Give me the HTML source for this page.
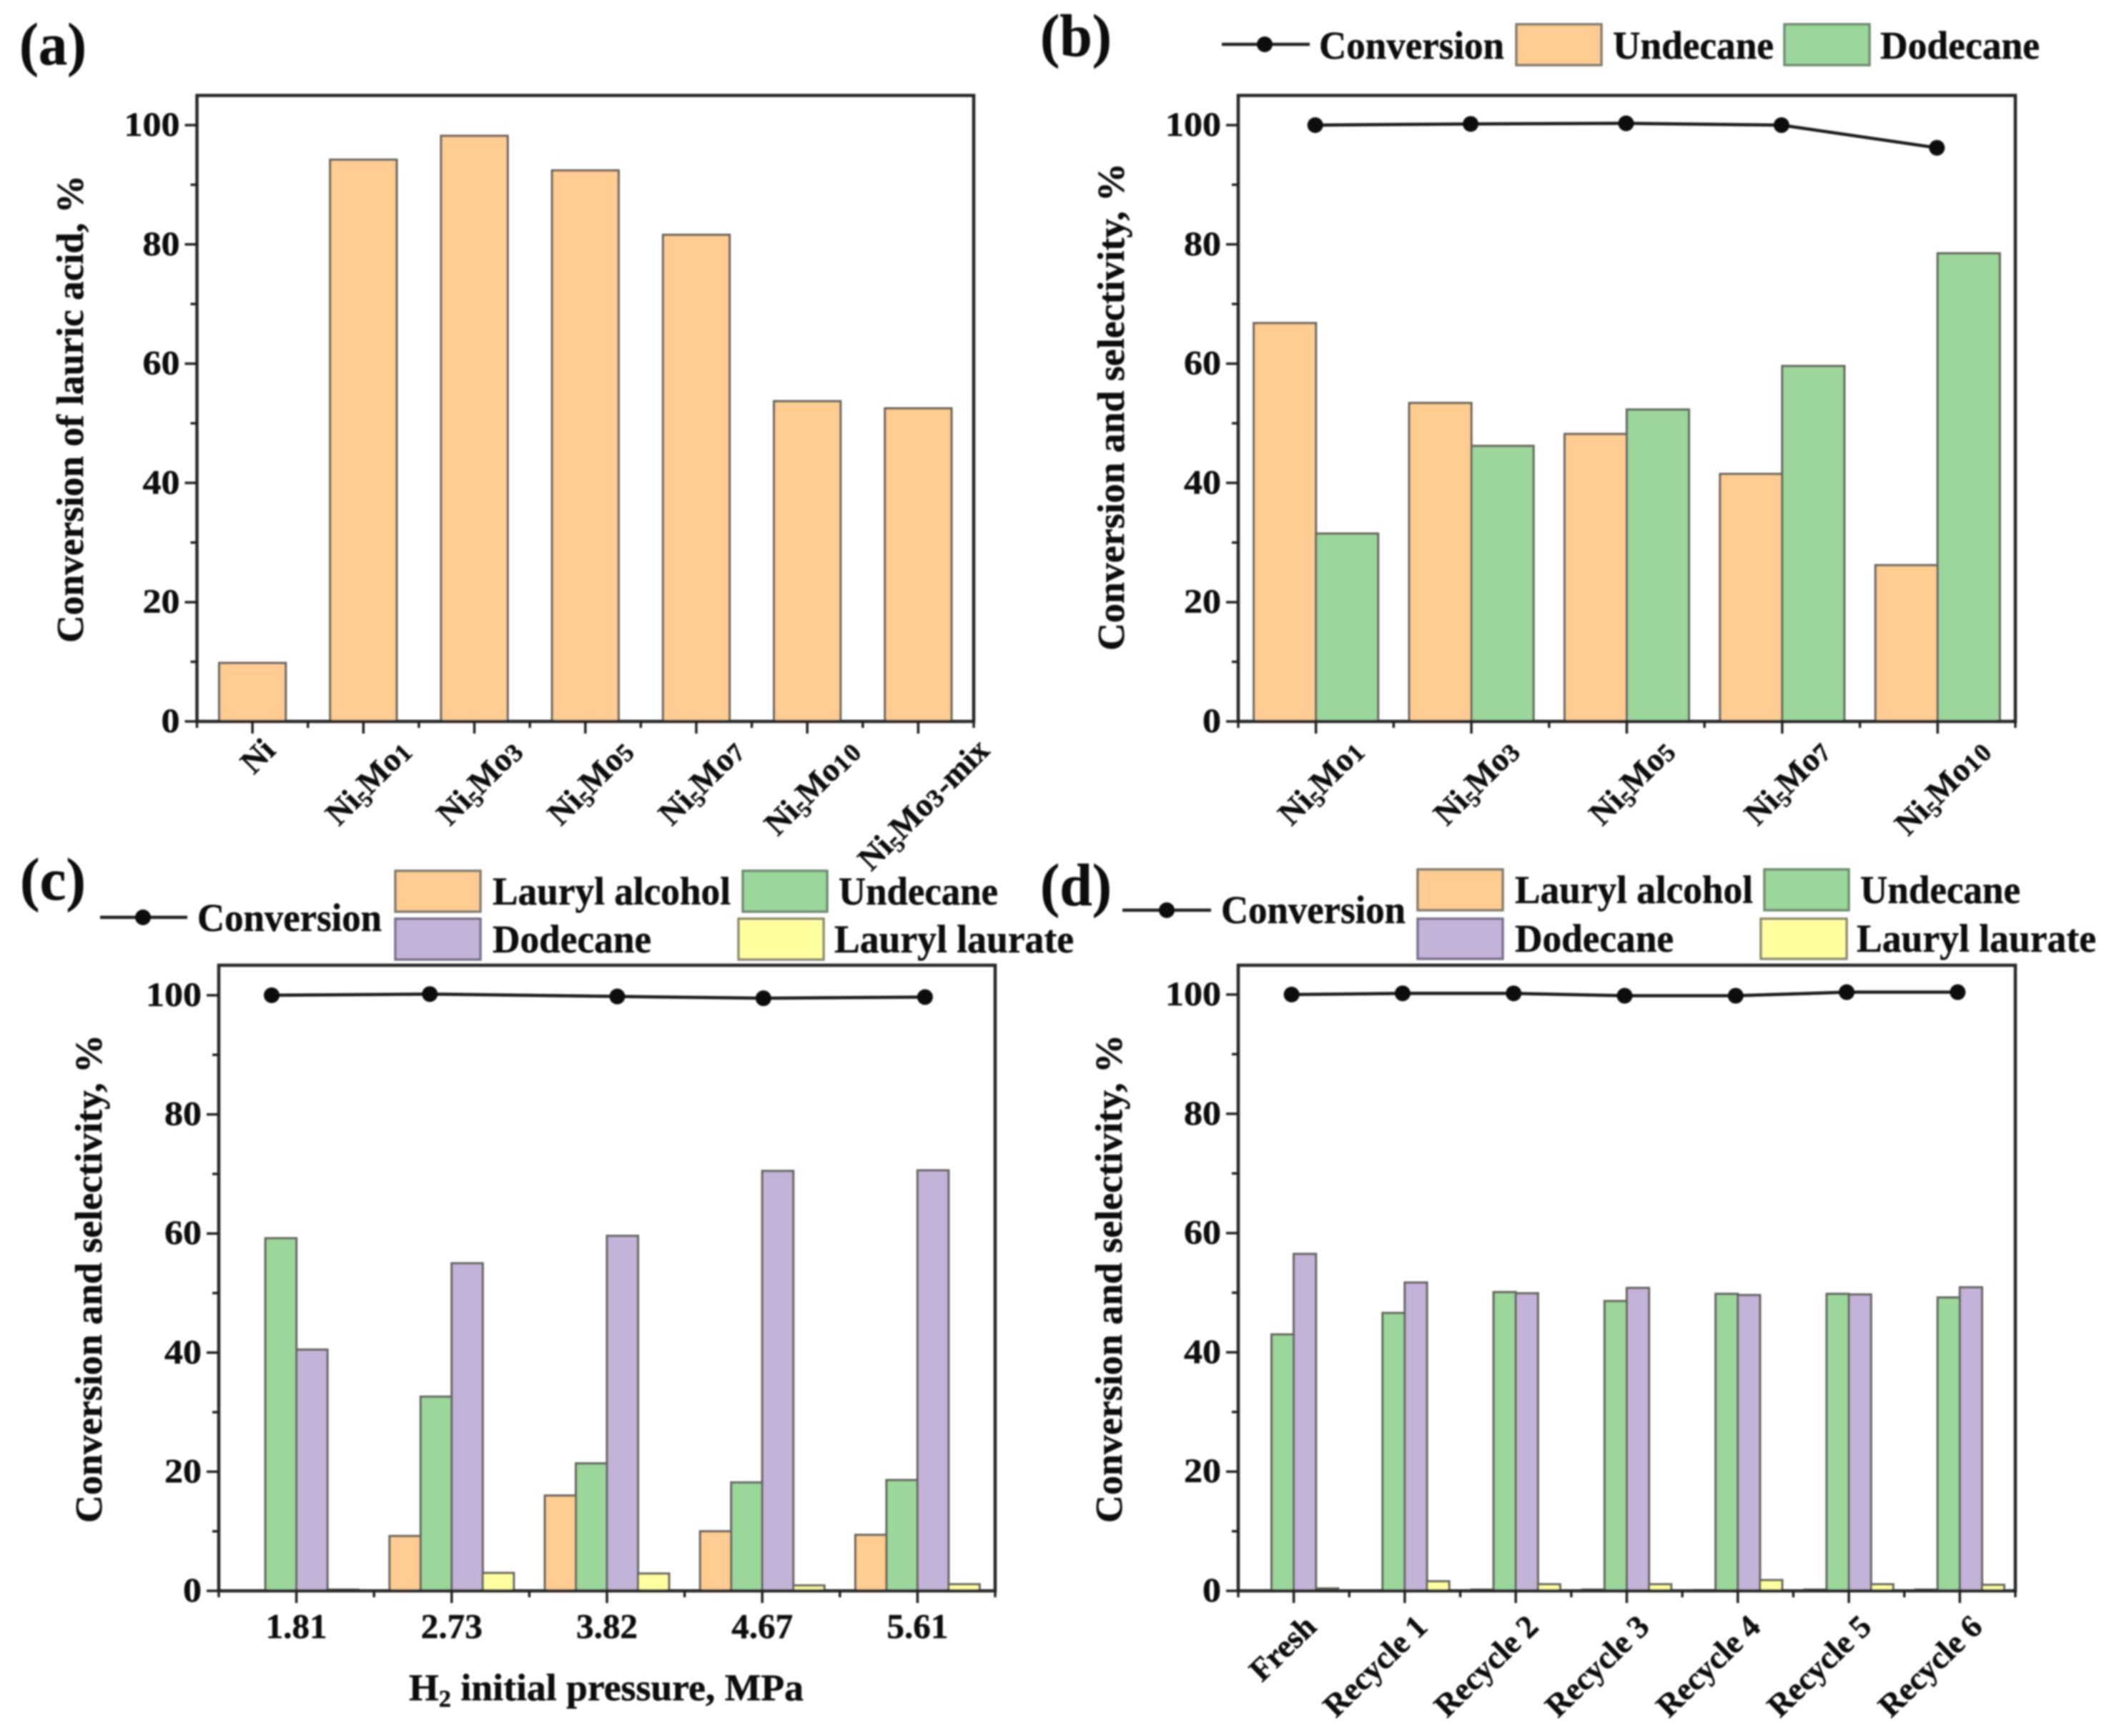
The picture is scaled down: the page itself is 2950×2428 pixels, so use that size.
<!DOCTYPE html>
<html lang="en">
<head>
<meta charset="utf-8">
<title>Catalyst conversion and selectivity charts</title>
<style>
html,body{margin:0;padding:0;background:#fff;width:2950px;height:2428px;overflow:hidden}
svg{display:block}
text{font-family:"Liberation Serif",serif;font-weight:bold;fill:#111;stroke:#111;stroke-width:0.5px}
</style>
</head>
<body>
<svg id="figure" xmlns="http://www.w3.org/2000/svg" width="2950" height="2428" viewBox="0 0 2950 2428">
<defs><filter id="soft" x="0" y="0" width="100%" height="100%"><feGaussianBlur stdDeviation="1.1"/></filter></defs>
<rect width="2950" height="2428" fill="#fff"/>
<g id="root" filter="url(#soft)">
  <text x="27" y="90" font-size="84" textLength="94" lengthAdjust="spacingAndGlyphs">(a)</text>
  <text x="1455" y="78" font-size="84" textLength="100" lengthAdjust="spacingAndGlyphs">(b)</text>
  <text x="28" y="1258" font-size="84" textLength="92" lengthAdjust="spacingAndGlyphs">(c)</text>
  <text x="1455" y="1266" font-size="84" textLength="100" lengthAdjust="spacingAndGlyphs">(d)</text>

  <text transform="translate(116,899) rotate(-90)" font-size="53" textLength="654" lengthAdjust="spacingAndGlyphs">Conversion of lauric acid, %</text>
  <text transform="translate(1572,910) rotate(-90)" font-size="53" textLength="682" lengthAdjust="spacingAndGlyphs">Conversion and selectivity, %</text>
  <text transform="translate(142,2130) rotate(-90)" font-size="53" textLength="683" lengthAdjust="spacingAndGlyphs">Conversion and selectivity, %</text>
  <text transform="translate(1569,2130) rotate(-90)" font-size="53" textLength="683" lengthAdjust="spacingAndGlyphs">Conversion and selectivity, %</text>
  <text x="572" y="2378" font-size="53" textLength="552" lengthAdjust="spacingAndGlyphs">H<tspan font-size="34" dy="9">2</tspan><tspan dy="-9"> initial pressure, MPa</tspan></text>

  <g>
    <line x1="1709" y1="62" x2="1832" y2="62" stroke="#222" stroke-width="4.5"/>
    <circle cx="1769" cy="62" r="11" fill="#111"/>
    <text x="1845" y="82" font-size="55" textLength="259" lengthAdjust="spacingAndGlyphs">Conversion</text>
    <rect x="2121" y="34" width="119" height="57" fill="#FFCC91" stroke="#807a6e" stroke-width="3.5"/>
    <text x="2256" y="82" font-size="55" textLength="225" lengthAdjust="spacingAndGlyphs">Undecane</text>
    <rect x="2496" y="34" width="119" height="57" fill="#9BD69B" stroke="#6f8a6f" stroke-width="3.5"/>
    <text x="2630" y="82" font-size="55" textLength="223" lengthAdjust="spacingAndGlyphs">Dodecane</text>
  </g>
  <g>
    <line x1="140" y1="1283" x2="262" y2="1283" stroke="#222" stroke-width="4.5"/>
    <circle cx="200" cy="1283" r="11" fill="#111"/>
    <text x="276" y="1302" font-size="55" textLength="258" lengthAdjust="spacingAndGlyphs">Conversion</text>
    <rect x="553" y="1218" width="119" height="57" fill="#FFCC91" stroke="#807a6e" stroke-width="3.5"/>
    <text x="689" y="1265" font-size="55" textLength="333" lengthAdjust="spacingAndGlyphs">Lauryl alcohol</text>
    <rect x="1039" y="1218" width="118" height="57" fill="#9BD69B" stroke="#6f8a6f" stroke-width="3.5"/>
    <text x="1173" y="1265" font-size="55" textLength="223" lengthAdjust="spacingAndGlyphs">Undecane</text>
    <rect x="553" y="1285" width="119" height="57" fill="#C4B3D9" stroke="#77708a" stroke-width="3.5"/>
    <text x="689" y="1332" font-size="55" textLength="222" lengthAdjust="spacingAndGlyphs">Dodecane</text>
    <rect x="1033" y="1285" width="119" height="57" fill="#FFFFA0" stroke="#8a8a70" stroke-width="3.5"/>
    <text x="1167" y="1332" font-size="55" textLength="335" lengthAdjust="spacingAndGlyphs">Lauryl laurate</text>
  </g>
  <g>
    <line x1="1570" y1="1273" x2="1694" y2="1273" stroke="#222" stroke-width="4.5"/>
    <circle cx="1632" cy="1273" r="11" fill="#111"/>
    <text x="1708" y="1291" font-size="55" textLength="258" lengthAdjust="spacingAndGlyphs">Conversion</text>
    <rect x="1983" y="1216" width="119" height="57" fill="#FFCC91" stroke="#807a6e" stroke-width="3.5"/>
    <text x="2119" y="1263" font-size="55" textLength="333" lengthAdjust="spacingAndGlyphs">Lauryl alcohol</text>
    <rect x="2468" y="1216" width="118" height="57" fill="#9BD69B" stroke="#6f8a6f" stroke-width="3.5"/>
    <text x="2602" y="1263" font-size="55" textLength="224" lengthAdjust="spacingAndGlyphs">Undecane</text>
    <rect x="1983" y="1285" width="119" height="56" fill="#C4B3D9" stroke="#77708a" stroke-width="3.5"/>
    <text x="2119" y="1331" font-size="55" textLength="222" lengthAdjust="spacingAndGlyphs">Dodecane</text>
    <rect x="2463" y="1285" width="120" height="56" fill="#FFFFA0" stroke="#8a8a70" stroke-width="3.5"/>
    <text x="2597" y="1331" font-size="55" textLength="335" lengthAdjust="spacingAndGlyphs">Lauryl laurate</text>
  </g>
</g>
</svg>
<script>
var yTickLabels = [0, 20, 40, 60, 80, 100];

var aCategories = ['Ni', 'Ni5Mo1', 'Ni5Mo3', 'Ni5Mo5', 'Ni5Mo7', 'Ni5Mo10', 'Ni5Mo3-mix'];
var aConversion = [9.8, 94.2, 98.2, 92.4, 81.6, 53.7, 52.5];

var bCategories = ['Ni5Mo1', 'Ni5Mo3', 'Ni5Mo5', 'Ni5Mo7', 'Ni5Mo10'];
var bUndecane = [66.8, 53.4, 48.2, 41.5, 26.2];
var bDodecane = [31.5, 46.2, 52.3, 59.6, 78.5];
var bConversion = [100, 100.2, 100.3, 100, 96.2];

var cPressures = [1.81, 2.73, 3.82, 4.67, 5.61];
var cLaurylAlcohol = [0, 9.2, 16, 10, 9.4];
var cUndecane = [59.2, 32.6, 21.4, 18.2, 18.6];
var cDodecane = [40.5, 55, 59.6, 70.5, 70.6];
var cLaurylLaurate = [0.2, 3, 2.9, 0.9, 1.1];
var cConversion = [100, 100.2, 99.8, 99.5, 99.7];

var dCategories = ['Fresh', 'Recycle 1', 'Recycle 2', 'Recycle 3', 'Recycle 4', 'Recycle 5', 'Recycle 6'];
var dLaurylAlcohol = [0, 0, 0.2, 0.2, 0.1, 0.2, 0.2];
var dUndecane = [43, 46.6, 50.1, 48.6, 49.8, 49.8, 49.2];
var dDodecane = [56.5, 51.7, 49.9, 50.8, 49.6, 49.7, 50.9];
var dLaurylLaurate = [0.4, 1.6, 1.1, 1.1, 1.8, 1.1, 1.0];
var dConversion = [100, 100.2, 100.2, 99.8, 99.8, 100.4, 100.4];

var ORANGE = '#FFCC91', GREEN = '#9BD69B', PURPLE = '#C4B3D9', YELLOW = '#FFFFA0';
var NS = 'http://www.w3.org/2000/svg';
var root = document.getElementById('root');

function mk(tag, attrs, parent) {
  var e = document.createElementNS(NS, tag);
  for (var k in attrs) e.setAttribute(k, attrs[k]);
  parent.appendChild(e);
  return e;
}
function yOf(p, v) { return p.y0 - v * (p.y0 - p.y100) / 100; }
function xOf(p, i) { return p.left + (i + 0.5) * (p.right - p.left) / p.n; }
function bandOf(p) { return (p.right - p.left) / p.n; }

function drawBars(p, series, fill, slot, slots, width, name) {
  var g = mk('g', {}, p.g);
  
  
  var w = bandOf(p) * width;
  series.forEach(function (v, i) {
    var x = xOf(p, i) + (slot - slots / 2) * w;
    var top = yOf(p, v);
    var r = mk('rect', { x: x, y: top, width: w, height: p.y0 - top, fill: fill, stroke: '#666660', 'stroke-width': 3.2 }, g);
    
    
  });
}

function drawLine(p, series, xFn, name) {
  var g = mk('g', {}, p.g);
  
  
  var pts = series.map(function (v, i) { return xFn(i) + ',' + yOf(p, v); }).join(' ');
  var l = mk('polyline', { points: pts, fill: 'none', stroke: '#1c1c1c', 'stroke-width': 4.5 }, g);
  
  
  series.forEach(function (v, i) {
    var c = mk('circle', { cx: xFn(i), cy: yOf(p, v), r: 11, fill: '#0c0c0c' }, g);
    
    
  });
}

function drawFrame(p) {
  var g = mk('g', {}, p.g);
  
  
  var frame = mk('rect', { x: p.left, y: p.top, width: p.right - p.left, height: p.y0 - p.top, fill: 'none', stroke: '#262626', 'stroke-width': 4.5 }, g);
  
  
  for (var m = 10; m < 100; m += 20) {
    var mt = mk('line', { x1: p.left - 9, x2: p.left, y1: yOf(p, m), y2: yOf(p, m), stroke: '#222', 'stroke-width': 3.5 }, g);
    
    
  }
  yTickLabels.forEach(function (v) {
    var t = mk('line', { x1: p.left - 17, x2: p.left, y1: yOf(p, v), y2: yOf(p, v), stroke: '#222', 'stroke-width': 3.5 }, g);
    
    
    var s = String(v);
    var lb = mk('text', { x: p.left - 24, y: yOf(p, v) + 15, 'text-anchor': 'end', 'font-size': 48, textLength: s.length * 26, lengthAdjust: 'spacingAndGlyphs' }, g);
    lb.textContent = s;
    
    
  });
  for (var i = 0; i < p.n; i++) {
    var xt = mk('line', { x1: xOf(p, i), x2: xOf(p, i), y1: p.y0, y2: p.y0 + 17, stroke: '#222', 'stroke-width': 3.5 }, g);
    
    
  }
  for (var j = 0; j <= p.n; j++) {
    var xm = p.left + j * bandOf(p);
    var mn = mk('line', { x1: xm, x2: xm, y1: p.y0, y2: p.y0 + 9, stroke: '#222', 'stroke-width': 3.5 }, g);
    
    
  }
}

function fillCatalystText(t, label) {
  var parts = label.split(/(\d+)/);
  var shifted = false;
  parts.forEach(function (part, idx) {
    if (!part) return;
    var sp = mk('tspan', {}, t);
    sp.textContent = part;
    if (idx % 2 === 1) {
      sp.setAttribute('font-size', idx === 1 ? 31 : 36);
      sp.setAttribute('dy', idx === 1 ? 9 : 2);
      sp.setAttribute('letter-spacing', idx === 1 ? 0 : 2);
      shifted = idx === 1 ? 9 : 2;
    } else if (shifted) {
      sp.setAttribute('dy', -shifted);
      shifted = false;
    }
  });
}

function drawCatalystLabels(p, labels, topY, shift) {
  labels.forEach(function (label, i) {
    var t = mk('text', { 'font-size': 46, 'text-anchor': 'end' }, p.g);
    fillCatalystText(t, label);
    
    
    var len = t.getComputedTextLength();
    var ang = 45 * Math.PI / 180;
    var ex = xOf(p, i) + shift + len * Math.cos(ang) / 2;
    t.setAttribute('transform', 'translate(' + ex + ',' + topY + ') rotate(-45)');
  });
}

/* ---------- panel a ---------- */
var pa = { left: 275.5, right: 1362, top: 133.5, y0: 1009, y100: 175, n: aCategories.length };
pa.g = mk('g', {}, root);


drawBars(pa, aConversion, ORANGE, 0, 1, 0.6, 'conversion');
drawFrame(pa);
drawCatalystLabels(pa, aCategories, 1052, 18);

/* ---------- panel b ---------- */
var pb = { left: 1732, right: 2819, top: 133.5, y0: 1009, y100: 175, n: bCategories.length };
pb.g = mk('g', {}, root);


drawBars(pb, bUndecane, ORANGE, 0, 2, 0.4, 'undecane');
drawBars(pb, bDodecane, GREEN, 1, 2, 0.4, 'dodecane');
drawFrame(pb);
drawLine(pb, bConversion, function (i) { return xOf(pb, i) - 1; }, 'conversion');
drawCatalystLabels(pb, bCategories, 1052, 18);

/* ---------- panel c ---------- */
var pc = { left: 306, right: 1392, top: 1350, y0: 2225, y100: 1392, n: cPressures.length };
pc.g = mk('g', {}, root);


drawBars(pc, cLaurylAlcohol, ORANGE, 0, 4, 0.2, 'lauryl-alcohol');
drawBars(pc, cUndecane, GREEN, 1, 4, 0.2, 'undecane');
drawBars(pc, cDodecane, PURPLE, 2, 4, 0.2, 'dodecane');
drawBars(pc, cLaurylLaurate, YELLOW, 3, 4, 0.2, 'lauryl-laurate');
drawFrame(pc);
function pressureX(mpa) { return 380 + (mpa - 1.81) * 240.5; }
drawLine(pc, cConversion, function (i) { return pressureX(cPressures[i]); }, 'conversion');
cPressures.forEach(function (v, i) {
  var t = mk('text', { x: xOf(pc, i), y: 2291, 'text-anchor': 'middle', 'font-size': 49, textLength: 86, lengthAdjust: 'spacingAndGlyphs' }, pc.g);
  t.textContent = v.toFixed(2);
  
  
});

/* ---------- panel d ---------- */
var pd = { left: 1732, right: 2819, top: 1350, y0: 2225, y100: 1391, n: dCategories.length };
pd.g = mk('g', {}, root);


drawBars(pd, dLaurylAlcohol, ORANGE, 0, 4, 0.2, 'lauryl-alcohol');
drawBars(pd, dUndecane, GREEN, 1, 4, 0.2, 'undecane');
drawBars(pd, dDodecane, PURPLE, 2, 4, 0.2, 'dodecane');
drawBars(pd, dLaurylLaurate, YELLOW, 3, 4, 0.2, 'lauryl-laurate');
drawFrame(pd);
drawLine(pd, dConversion, function (i) { return xOf(pd, i) - 3; }, 'conversion');
dCategories.forEach(function (label, i) {
  var t = mk('text', { 'font-size': 45, 'text-anchor': 'end', transform: 'translate(' + (xOf(pd, i) + 34) + ',2278) rotate(-44)' }, pd.g);
  t.textContent = label;
  
  
});
</script>
</body>
</html>
